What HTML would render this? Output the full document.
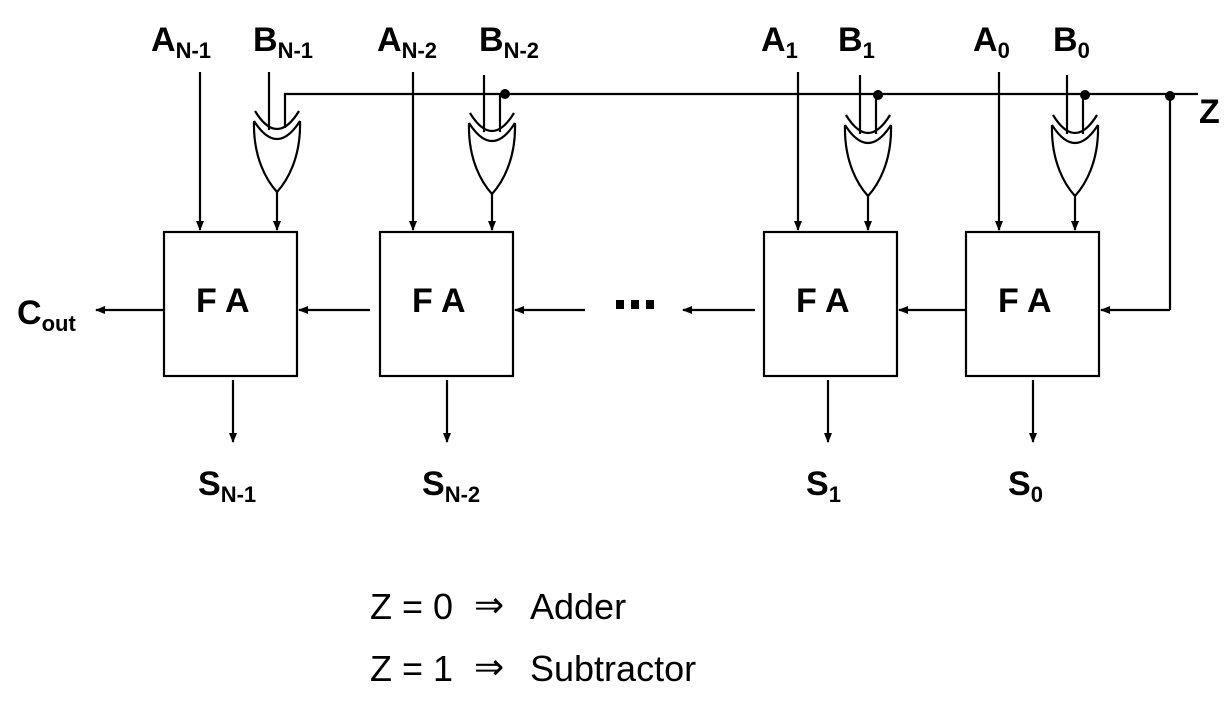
<!DOCTYPE html>
<html><head><style>
html,body{margin:0;padding:0;background:#fff;}
svg{display:block;}
text{font-family:"Liberation Sans",Arial,sans-serif;fill:#000;}
.b{font-weight:bold;font-size:34px;}
.s{font-weight:bold;font-size:22px;}
.t{font-size:36px;}
</style></head><body>
<svg width="1232" height="704" viewBox="0 0 1232 704" xmlns="http://www.w3.org/2000/svg">
<defs>
<marker id="ar" markerWidth="10" markerHeight="8" refX="9" refY="4" orient="auto" markerUnits="userSpaceOnUse">
<path d="M0,0 L10,4 L0,8 z" fill="#000"/>
</marker>
<g id="gate" fill="none" stroke="#000" stroke-width="2.2">
<path d="M-22,-2 Q0,34 22,-2"/>
<path d="M-23,8 Q0,44 23,8"/>
<path d="M-23,8 C-24,45 -10,68 0,79 C10,68 24,45 23,8"/>
</g>
</defs>
<g stroke="#000" stroke-width="2.2" fill="none">
<polyline points="285,128 285,94 1198,94"/>
<line x1="1170" y1="94" x2="1170" y2="310"/>
<line x1="1170" y1="310" x2="1101" y2="310" marker-end="url(#ar)"/>
<rect x="164" y="232" width="133" height="144"/>
<rect x="380" y="232" width="133" height="144"/>
<rect x="764" y="232" width="133" height="144"/>
<rect x="966" y="232" width="133" height="144"/>
<line x1="200" y1="72" x2="200" y2="230" marker-end="url(#ar)"/>
<line x1="413" y1="72" x2="413" y2="230" marker-end="url(#ar)"/>
<line x1="798" y1="72" x2="798" y2="230" marker-end="url(#ar)"/>
<line x1="999" y1="72" x2="999" y2="230" marker-end="url(#ar)"/>
<line x1="269" y1="72" x2="269" y2="130"/>
<line x1="484" y1="75" x2="484" y2="132"/>
<line x1="860" y1="75" x2="860" y2="134"/>
<line x1="1067" y1="75" x2="1067" y2="134"/>
<line x1="500" y1="94" x2="500" y2="132"/>
<line x1="876" y1="94" x2="876" y2="134"/>
<line x1="1083" y1="94" x2="1083" y2="134"/>
<line x1="277" y1="192" x2="277" y2="230" marker-end="url(#ar)"/>
<line x1="492" y1="194" x2="492" y2="230" marker-end="url(#ar)"/>
<line x1="868" y1="196" x2="868" y2="230" marker-end="url(#ar)"/>
<line x1="1075" y1="196" x2="1075" y2="230" marker-end="url(#ar)"/>
<line x1="966" y1="310" x2="899" y2="310" marker-end="url(#ar)"/>
<line x1="755" y1="310" x2="683" y2="310" marker-end="url(#ar)"/>
<line x1="585" y1="310" x2="515" y2="310" marker-end="url(#ar)"/>
<line x1="370" y1="310" x2="299" y2="310" marker-end="url(#ar)"/>
<line x1="164" y1="310" x2="96" y2="310" marker-end="url(#ar)"/>
<line x1="233" y1="380" x2="233" y2="442" marker-end="url(#ar)"/>
<line x1="447" y1="380" x2="447" y2="442" marker-end="url(#ar)"/>
<line x1="828" y1="380" x2="828" y2="442" marker-end="url(#ar)"/>
<line x1="1033" y1="380" x2="1033" y2="442" marker-end="url(#ar)"/>
</g>
<use href="#gate" x="277" y="113"/>
<use href="#gate" x="492" y="115"/>
<use href="#gate" x="868" y="117"/>
<use href="#gate" x="1075" y="117"/>
<g fill="#000">
<circle cx="505" cy="94" r="5"/>
<circle cx="878" cy="95" r="5"/>
<circle cx="1085" cy="95" r="5"/>
<circle cx="1170" cy="96" r="5"/>
<rect x="616" y="300" width="8" height="9"/>
<rect x="631" y="300" width="8" height="9"/>
<rect x="646" y="300" width="8" height="9"/>
</g>
<text class="b" x="151" y="51">A<tspan class="s" dy="7">N-1</tspan></text>
<text class="b" x="253" y="51">B<tspan class="s" dy="7">N-1</tspan></text>
<text class="b" x="377" y="51">A<tspan class="s" dy="7">N-2</tspan></text>
<text class="b" x="479" y="51">B<tspan class="s" dy="7">N-2</tspan></text>
<text class="b" x="761" y="51">A<tspan class="s" dy="7">1</tspan></text>
<text class="b" x="838" y="51">B<tspan class="s" dy="7">1</tspan></text>
<text class="b" x="973" y="51">A<tspan class="s" dy="7">0</tspan></text>
<text class="b" x="1053" y="51">B<tspan class="s" dy="7">0</tspan></text>
<text class="b" x="1199" y="123">Z</text>
<text class="b" x="196" y="312">F A</text>
<text class="b" x="412" y="312">F A</text>
<text class="b" x="796" y="312">F A</text>
<text class="b" x="998" y="312">F A</text>
<text class="b" x="17" y="324">C<tspan class="s" dy="7">out</tspan></text>
<text class="b" x="198" y="495">S<tspan class="s" dy="7">N-1</tspan></text>
<text class="b" x="422" y="495">S<tspan class="s" dy="7">N-2</tspan></text>
<text class="b" x="806" y="495">S<tspan class="s" dy="7">1</tspan></text>
<text class="b" x="1008" y="495">S<tspan class="s" dy="7">0</tspan></text>
<text class="t" x="370" y="619">Z = 0</text>
<text class="t" x="474" y="617" font-size="30">⇒</text>
<text class="t" x="530" y="619">Adder</text>
<text class="t" x="370" y="681">Z = 1</text>
<text class="t" x="474" y="679" font-size="30">⇒</text>
<text class="t" x="530" y="681">Subtractor</text>
</svg>
</body></html>
